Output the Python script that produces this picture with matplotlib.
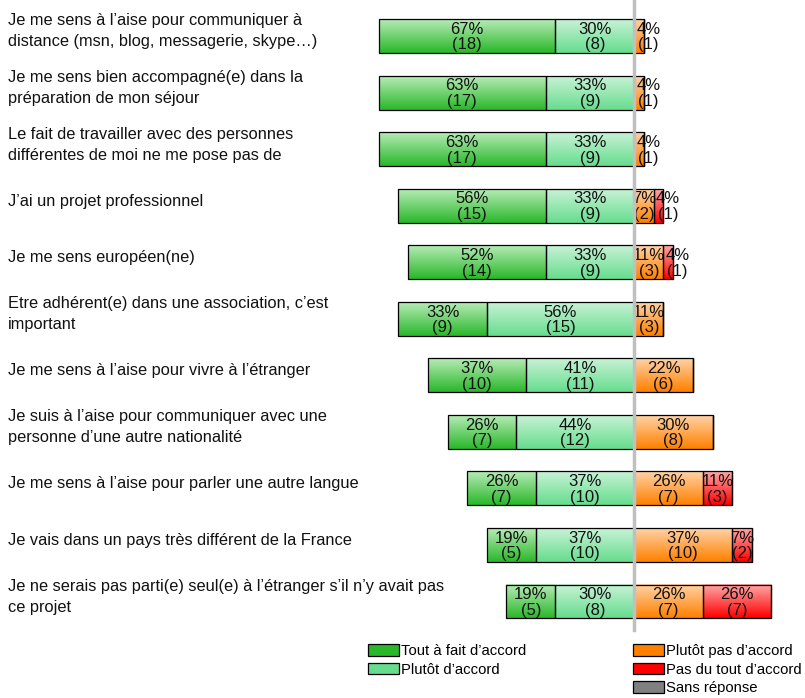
import numpy as np
import matplotlib
matplotlib.use("Agg")
import matplotlib.pyplot as plt
from matplotlib.patches import Patch
from matplotlib.colors import to_rgb

plt.rcParams['font.family'] = ['Liberation Sans', 'DejaVu Sans']

# questions, top to bottom
questions = [
    "Je me sens à l’aise pour communiquer à\ndistance (msn, blog, messagerie, skype…)",
    "Je me sens bien accompagné(e) dans la\npréparation de mon séjour",
    "Le fait de travailler avec des personnes\ndifférentes de moi ne me pose pas de",
    "J’ai un projet professionnel",
    "Je me sens européen(ne)",
    "Etre adhérent(e) dans une association, c’est\nimportant",
    "Je me sens à l’aise pour vivre à l’étranger",
    "Je suis à l’aise pour communiquer avec une\npersonne d’une autre nationalité",
    "Je me sens à l’aise pour parler une autre langue",
    "Je vais dans un pays très différent de la France",
    "Je ne serais pas parti(e) seul(e) à l’étranger s’il n’y avait pas\nce projet",
]

# number of answers (27 respondents)
tout_a_fait = [18, 17, 17, 15, 14, 9, 10, 7, 7, 5, 5]
plutot = [8, 9, 9, 9, 9, 15, 11, 12, 10, 10, 8]
plutot_pas = [1, 1, 1, 2, 3, 3, 6, 8, 7, 10, 7]
pas_du_tout = [0, 0, 0, 1, 1, 0, 0, 0, 3, 2, 7]
sans_reponse = [0, 0, 0, 0, 0, 0, 0, 0, 0, 0, 0]
total = 27

legend_left = ["Tout à fait d’accord", "Plutôt d’accord"]
legend_right = ["Plutôt pas d’accord", "Pas du tout d’accord", "Sans réponse"]

base_cols = ['#2ab82a', '#66dd8e', '#ff8000', '#ff0000', '#808080']
top_cols = ['#b6ebb6', '#c8f2d6', '#ffd2a6', '#ffa8a8', '#d0d0d0']

fig = plt.figure(figsize=(8.05, 6.98), dpi=100)
ax = fig.add_axes([0, 0, 1, 1])

y = np.arange(len(questions))
h = 0.60


def pct(v):
    return np.array(v) / total * 100


def grad_bars(left, width, k):
    bars = ax.barh(y, width, left=left, height=h, facecolor='none',
                   edgecolor='black', lw=0.9, zorder=3)
    c1 = np.array(to_rgb(top_cols[k]))
    c2 = np.array(to_rgb(base_cols[k]))
    t = np.linspace(0, 1, 50)[:, None]
    img = (c1 * (1 - t) + c2 * t)[:, None, :]
    for b in bars:
        if b.get_width() <= 0:
            continue
        x0, y0 = b.get_x(), b.get_y()
        ax.imshow(img, extent=(x0, x0 + b.get_width(), y0 + h, y0),
                  aspect='auto', zorder=2, interpolation='bilinear')
    return bars


def add_labels(left, width, counts):
    for i in range(len(y)):
        if counts[i] == 0:
            continue
        cx = left[i] + width[i] / 2
        if width[i] < 5:
            cx += 3.5
        ax.text(cx, y[i] + 0.02, "%d%%\n(%d)" % (round(width[i]), counts[i]),
                ha='center', va='center', fontsize=12, linespacing=1.05,
                color='#111111', zorder=4)


w1, w2 = pct(tout_a_fait), pct(plutot)
w3, w4, w5 = pct(plutot_pas), pct(pas_du_tout), pct(sans_reponse)

left1 = -(w1 + w2)
left2 = -w2
grad_bars(left1, w1, 0)
grad_bars(left2, w2, 1)
grad_bars(np.zeros(len(y)), w3, 2)
grad_bars(w3, w4, 3)
grad_bars(w3 + w4, w5, 4)

add_labels(left1, w1, tout_a_fait)
add_labels(left2, w2, plutot)
add_labels(np.zeros(len(y)), w3, plutot_pas)
add_labels(w3, w4, pas_du_tout)

for i, q in enumerate(questions):
    ax.text(-236.2, y[i] - 0.08, q, ha='left', va='center', fontsize=11.8,
            linespacing=1.5, color='#111111')

ax.axvline(0, ymin=1 - 630 / 698, ymax=1, color='#c0c0c0', lw=2.5, zorder=5)

ax.set_xlim(-239.2, 64.5)
ax.set_ylim(11.706, -0.6366)
ax.axis('off')

hl = [Patch(facecolor=base_cols[k], edgecolor='black', lw=0.9) for k in range(2)]
hr = [Patch(facecolor=base_cols[k], edgecolor='black', lw=0.9) for k in range(2, 5)]
kw = dict(frameon=False, fontsize=10.7, handlelength=2.1, handleheight=0.85,
          handletextpad=0.15, labelspacing=0.3, borderpad=0, borderaxespad=0,
          loc='upper left')
fig.legend(hl, legend_left, bbox_to_anchor=(368 / 805, 1 - 644 / 698), **kw)
fig.legend(hr, legend_right, bbox_to_anchor=(633 / 805, 1 - 644 / 698), **kw)

fig.savefig('out.png', dpi=100)
